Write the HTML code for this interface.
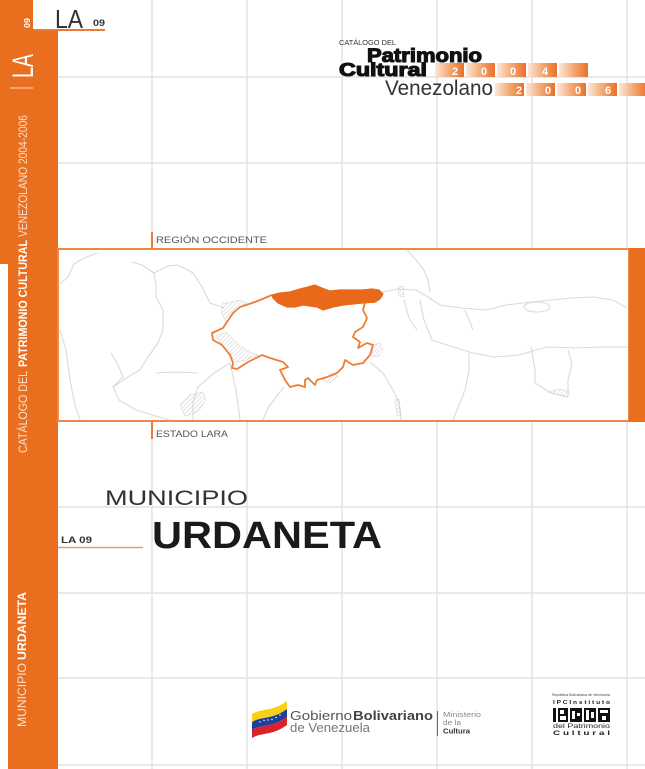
<!DOCTYPE html>
<html><head><meta charset="utf-8"><style>
html,body{margin:0;padding:0;background:#fff;}
svg{display:block;}
text{font-family:"Liberation Sans","DejaVu Sans",sans-serif;}
</style></head><body>
<svg width="645" height="769" viewBox="0 0 645 769" xmlns="http://www.w3.org/2000/svg">
<defs>
<linearGradient id="yb" x1="0" x2="1" y1="0" y2="0">
<stop offset="0" stop-color="#fde7d6"/><stop offset="0.55" stop-color="#f3a36c"/><stop offset="1" stop-color="#e9702a"/>
</linearGradient>
<pattern id="h" width="3" height="3" patternUnits="userSpaceOnUse" patternTransform="rotate(45)">
<line x1="0" y1="0" x2="0" y2="3" stroke="#bdbdbd" stroke-width="0.8"/>
</pattern>
</defs>
<rect width="645" height="769" fill="#fff"/>
<!-- grid -->
<g stroke="#e2e2e2" stroke-width="1.5">
<line x1="152" y1="0" x2="152" y2="769"/><line x1="247" y1="0" x2="247" y2="769"/>
<line x1="342" y1="0" x2="342" y2="769"/><line x1="437" y1="0" x2="437" y2="769"/>
<line x1="532" y1="0" x2="532" y2="769"/><line x1="627" y1="0" x2="627" y2="769"/>
<line x1="58" y1="77" x2="645" y2="77"/><line x1="58" y1="163" x2="645" y2="163"/>
<line x1="58" y1="507" x2="645" y2="507"/><line x1="58" y1="593" x2="645" y2="593"/>
<line x1="58" y1="678" x2="645" y2="678"/><line x1="58" y1="765" x2="645" y2="765"/>
</g>
<!-- sidebar -->
<rect x="0" y="0" width="58" height="264" fill="#e96e1e"/>
<rect x="8" y="263" width="50" height="506" fill="#e96e1e"/>
<rect x="33" y="0" width="26" height="30" fill="#fff"/>
<line x1="33" y1="30" x2="105" y2="30" stroke="#ec7a32" stroke-width="2"/>
<text x="55" y="28" font-size="26" fill="#333" textLength="28" lengthAdjust="spacingAndGlyphs">LA</text>
<text x="93" y="26" font-size="9" font-weight="bold" fill="#333" textLength="12" lengthAdjust="spacingAndGlyphs">09</text>
<!-- rotated sidebar texts -->
<text transform="translate(30,28) rotate(-90)" font-size="8.5" font-weight="bold" fill="#fff" textLength="10" lengthAdjust="spacingAndGlyphs">09</text>
<text transform="translate(33,78) rotate(-90)" font-size="30" fill="#fff" textLength="24" lengthAdjust="spacingAndGlyphs">LA</text>
<line x1="10" y1="88" x2="33" y2="88" stroke="#fbd8c0" stroke-width="1"/>
<text transform="translate(27,453) rotate(-90)" font-size="11.5" fill="#fde0cc" textLength="82" lengthAdjust="spacingAndGlyphs">CATÁLOGO DEL</text>
<text transform="translate(27,367) rotate(-90)" font-size="11.5" font-weight="bold" fill="#fff" textLength="127" lengthAdjust="spacingAndGlyphs">PATRIMONIO CULTURAL</text>
<text transform="translate(27,237) rotate(-90)" font-size="11.5" fill="#fde0cc" textLength="122" lengthAdjust="spacingAndGlyphs">VENEZOLANO 2004-2006</text>
<text transform="translate(26,727) rotate(-90)" font-size="11.5" fill="#fde0cc" textLength="64" lengthAdjust="spacingAndGlyphs">MUNICIPIO</text>
<text transform="translate(26,660) rotate(-90)" font-size="11.5" font-weight="bold" fill="#fff" textLength="68" lengthAdjust="spacingAndGlyphs">URDANETA</text>
<!-- top right logo -->
<text x="339" y="45" font-size="7" fill="#333" textLength="57" lengthAdjust="spacingAndGlyphs">CATÁLOGO DEL</text>
<text x="367" y="62" font-size="19" font-weight="bold" fill="#111" font-family="DejaVu Sans" textLength="115" lengthAdjust="spacingAndGlyphs" stroke="#111" stroke-width="1.1">Patrimonio</text>
<text x="339" y="76" font-size="18" font-weight="bold" fill="#111" font-family="DejaVu Sans" textLength="88" lengthAdjust="spacingAndGlyphs" stroke="#111" stroke-width="1.1">Cultural</text>
<text x="385" y="95" font-size="21" fill="#333" textLength="108" lengthAdjust="spacingAndGlyphs">Venezolano</text>
<g>
<rect x="435" y="63" width="29" height="14" fill="url(#yb)"/>
<rect x="466" y="63" width="29" height="14" fill="url(#yb)"/>
<rect x="497" y="63" width="29" height="14" fill="url(#yb)"/>
<rect x="528" y="63" width="29" height="14" fill="url(#yb)"/>
<rect x="559" y="63" width="29" height="14" fill="url(#yb)"/>
<rect x="495" y="83" width="29" height="13" fill="url(#yb)"/>
<rect x="526" y="83" width="29" height="13" fill="url(#yb)"/>
<rect x="557" y="83" width="29" height="13" fill="url(#yb)"/>
<rect x="588" y="83" width="29" height="13" fill="url(#yb)"/>
<rect x="619" y="83" width="29" height="13" fill="url(#yb)"/>
<g font-size="11" font-weight="bold" fill="#fff" text-anchor="middle">
<text x="455" y="75">2</text><text x="484" y="75">0</text><text x="513" y="75">0</text><text x="545" y="75">4</text>
<text x="519" y="94">2</text><text x="548" y="94">0</text><text x="578" y="94">0</text><text x="608" y="94">6</text>
</g>
</g>
<!-- map box -->
<rect x="58" y="249" width="571" height="172" fill="#fff" stroke="#ee8848" stroke-width="2"/>
<rect x="629" y="248" width="16" height="174" fill="#e96e1e"/>
<line x1="152" y1="232" x2="152" y2="249" stroke="#ec7a32" stroke-width="2"/>
<text x="156" y="243" font-size="9" fill="#555" textLength="111" lengthAdjust="spacingAndGlyphs">REGIÓN OCCIDENTE</text>
<line x1="152" y1="421" x2="152" y2="439" stroke="#ec7a32" stroke-width="2"/>
<text x="156" y="437" font-size="9" fill="#555" textLength="72" lengthAdjust="spacingAndGlyphs">ESTADO LARA</text>
<!-- map gray lines -->
<g fill="none" stroke="#dadada" stroke-width="1.1" stroke-linejoin="round">
<polyline points="97,253 84,258 74,264 68,277 60,284"/>
<polyline points="132,262 142,265 154,273 156,285 156,297 163,310 163,330 158,343 148,357 140,370 128,377 113,387 119,400 136,410 152,415 170,420"/>
<polyline points="111,353 118,365 123,377 113,387"/>
<polyline points="154,273 168,266 177,265 186,269 193,273 202,287 210,303 224,308"/>
<polyline points="230,363 214,373 198,387 193,402 193,420"/>
<polyline points="156,373 175,372 198,373"/>
<polyline points="284,387 276,397 268,408 263,420"/>
<polyline points="370,362 383,373 393,390 399,403 401,420"/>
<polyline points="382,292 399,289 416,290 428,297 440,305 461,308 486,310 506,305 531,302 551,300 572,298 593,297 613,300 627,308"/>
<polyline points="407,250 416,260 424,270 428,280 430,292"/>
<polyline points="420,300 424,320 432,340 453,347 473,353 494,357 519,355 547,347 576,348 601,347 628,347"/>
<polyline points="469,353 469,370 465,390 453,420"/>
<polyline points="531,347 535,370 535,383 551,393 568,397 568,380 572,363 568,350"/>
<ellipse cx="537" cy="307" rx="13" ry="5"/>
<polyline points="465,310 473,330"/>
<polyline points="60,330 66,350 70,380 75,405 80,420"/>
<polyline points="404,300 409,318 417,330"/>
<polyline points="230,363 236,390 240,420"/>
</g>
<g fill="url(#h)" stroke="#cfcfcf" stroke-width="0.5">
<polygon points="222,304 240,300 247,303 238,309 232,316 226,322 222,314"/>
<polygon points="216,336 222,345 230,355 236,362 246,360 258,355 250,352 240,346 232,338 226,332"/>
<polygon points="373,345 380,343 383,350 378,357 372,356"/>
<polygon points="322,380 333,374 338,376 330,383"/>
<polygon points="180,405 190,395 203,392 206,400 198,412 185,416"/>
<polygon points="398,287 403,286 404,297 399,296"/>
<polygon points="548,392 566,397 570,392 560,389"/>
<polygon points="395,400 399,399 401,415 397,416"/>
</g>
<!-- Lara outline -->
<path d="M272,295 L260,300 252,303 240,307 233,313 227,322 223,328 212,333 213,340 222,345 230,355 233,363 232,368 237,369 248,362 262,355 270,358 283,362 288,367 280,370 285,380 290,387 298,385 305,387 305,380 308,378 315,385 317,380 327,377 337,373 343,367 345,360 353,365 363,363 370,355 373,345 367,343 358,348 360,342 353,337 355,332 363,327 367,318 363,310 365,302 375,302" fill="none" stroke="#ee7d35" stroke-width="1.8" stroke-linejoin="round"/>
<!-- Urdaneta filled -->
<path d="M272,295 L280,293 290,292 300,289 308,287 315,285 322,288 330,291 340,290 350,290 362,290 372,289 379,290 383,294 380,299 375,302 363,303 353,304 343,305 333,307 323,310 317,307 310,306 303,305 295,307 287,307 278,303 273,298 Z" fill="#e9681a" stroke="#e9681a" stroke-width="1.2" stroke-linejoin="round"/>
<!-- municipio -->
<text x="105" y="505" font-size="21" fill="#333" textLength="143" lengthAdjust="spacingAndGlyphs">MUNICIPIO</text>
<text x="152" y="548" font-size="38" font-weight="bold" fill="#1a1a1a" textLength="230" lengthAdjust="spacingAndGlyphs">URDANETA</text>
<text x="61" y="543" font-size="9.5" font-weight="bold" fill="#333" textLength="31" lengthAdjust="spacingAndGlyphs">LA 09</text>
<line x1="58" y1="547.5" x2="143" y2="547.5" stroke="#f09a62" stroke-width="1.5"/>
<!-- footer: flag -->
<path d="M252,714 C262,708 272,712 287,701 L287,709 C272,720 262,716 252,722 Z" fill="#f7d117"/>
<path d="M252,722 C262,716 272,720 287,709 L287,717 C272,728 262,724 252,730 Z" fill="#1f3f9a"/>
<path d="M252,730 C262,724 272,728 287,717 L287,725 C272,736 262,732 252,738 Z" fill="#d9232b"/>
<g fill="#fff"><circle cx="260" cy="722" r="0.7"/><circle cx="264" cy="720.5" r="0.7"/><circle cx="268" cy="720" r="0.7"/><circle cx="272" cy="719.5" r="0.7"/><circle cx="276" cy="717.5" r="0.7"/><circle cx="280" cy="715" r="0.7"/></g>
<text x="290" y="720" font-size="13" fill="#555" textLength="62" lengthAdjust="spacingAndGlyphs">Gobierno</text>
<text x="353" y="720" font-size="13" font-weight="bold" fill="#444" textLength="80" lengthAdjust="spacingAndGlyphs">Bolivariano</text>
<text x="290" y="732" font-size="13" fill="#777" textLength="80" lengthAdjust="spacingAndGlyphs">de Venezuela</text>
<line x1="437.5" y1="711" x2="437.5" y2="736" stroke="#666" stroke-width="1"/>
<text x="443" y="717" font-size="7" fill="#888" textLength="38" lengthAdjust="spacingAndGlyphs">Ministerio</text>
<text x="443" y="725" font-size="7" fill="#888" textLength="18" lengthAdjust="spacingAndGlyphs">de la</text>
<text x="443" y="733.5" font-size="7.5" font-weight="bold" fill="#333" textLength="27" lengthAdjust="spacingAndGlyphs">Cultura</text>
<!-- IPC logo -->
<text x="552" y="696" font-size="3.5" fill="#444" textLength="58" lengthAdjust="spacingAndGlyphs">República Bolivariana de Venezuela</text>
<text x="553" y="704" font-size="5.5" font-weight="bold" fill="#222" textLength="57" lengthAdjust="spacingAndGlyphs">I P C  I n s t i t u t o</text>
<g fill="#111">
<rect x="553" y="708" width="3" height="14"/>
<rect x="558" y="708" width="10" height="14"/>
<rect x="570" y="708" width="12" height="14"/>
<rect x="584" y="708" width="12" height="14"/>
<rect x="598" y="708" width="12" height="14"/>
</g>
<g fill="#fff">
<rect x="560" y="710" width="4" height="4"/><rect x="560" y="716" width="6" height="4"/>
<rect x="572" y="711" width="3" height="8"/><rect x="577" y="713" width="3" height="3"/>
<rect x="586" y="710" width="3" height="10"/><rect x="591" y="712" width="3" height="6"/>
<rect x="600" y="710" width="8" height="3"/><rect x="602" y="716" width="4" height="4"/>
</g>
<text x="553" y="728" font-size="6" fill="#222" textLength="57" lengthAdjust="spacingAndGlyphs">del Patrimonio</text>
<text x="553" y="735" font-size="6" font-weight="bold" fill="#222" textLength="57" lengthAdjust="spacingAndGlyphs">C u l t u r a l</text>
</svg>
</body></html>
